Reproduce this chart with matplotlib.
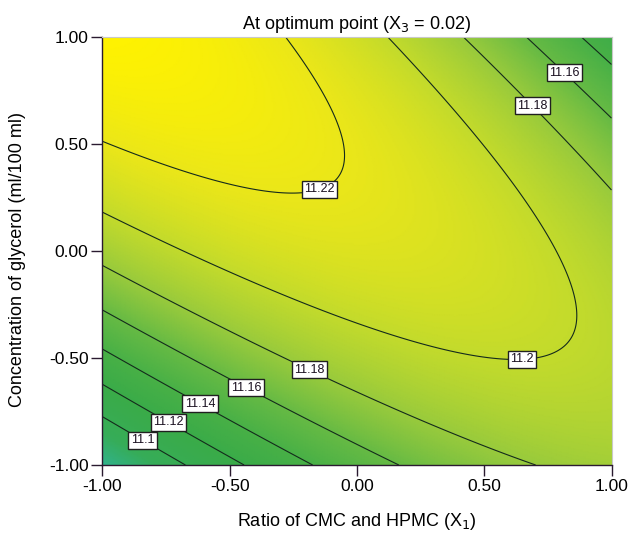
import numpy as np
import matplotlib.pyplot as plt
from matplotlib.colors import LinearSegmentedColormap

plt.rcParams['font.family'] = ['Liberation Sans Narrow', 'Liberation Sans', 'DejaVu Sans']

# quadratic model coefficients at X3 = 0.02 (intercept, X1, X2, X1X2, X1^2, X2^2)
b0 = 11.21334
b_lin = [0.00251, 0.02793]
b_int = -0.05632
b_sq = [-0.02497, -0.03440]

levels = [11.10, 11.12, 11.14, 11.16, 11.18, 11.20, 11.22]
# where each contour label sits (x1, x2)
label_pos = [(-0.831, -0.859), (-0.731, -0.778), (-0.605, -0.687), (-0.427, -0.617),
             (-0.178, -0.531), (0.647, -0.468), (-0.152, 0.304), (0.700, 0.690), (0.827, 0.847)]

x1 = np.linspace(-1, 1, 301)
x2 = np.linspace(-1, 1, 301)
X1, X2 = np.meshgrid(x1, x2)
Z = (b0 + b_lin[0] * X1 + b_lin[1] * X2 + b_int * X1 * X2
     + b_sq[0] * X1 ** 2 + b_sq[1] * X2 ** 2)

zmin, zmax = 11.067, 11.236
stops = [(11.067, '#30b28e'), (11.09, '#36ac58'), (11.12, '#3aab48'), (11.14, '#48b046'),
         (11.16, '#66ba44'), (11.18, '#98ca3c'), (11.20, '#c2da2c'), (11.22, '#eae619'),
         (11.236, '#fff200')]
cmap = LinearSegmentedColormap.from_list(
    'surface', [((v - zmin) / (zmax - zmin), c) for v, c in stops])

fig = plt.figure(figsize=(6.31, 5.40), dpi=100)
ax = fig.add_axes([0.1624, 0.1389, 0.8067, 0.7926])
ax.pcolormesh(X1, X2, Z, cmap=cmap, vmin=zmin, vmax=zmax, shading='gouraud')
cs = ax.contour(X1, X2, Z, levels=levels, colors='#142a1c', linewidths=0.8)
labels = ax.clabel(cs, fmt=lambda v: f'{v:g}', manual=label_pos, inline=False, fontsize=9,
                   colors='#1a1020')
for t in labels:
    t.set_rotation(0)
    t.set_bbox(dict(boxstyle='square,pad=0.2', facecolor='white', edgecolor='#202020', linewidth=1.0))

ax.set_xlim(-1, 1)
ax.set_ylim(-1, 1)
ticks = [-1.0, -0.5, 0.0, 0.5, 1.0]
ax.set_xticks(ticks)
ax.set_yticks(ticks)
ax.set_xticklabels([f'{t:.2f}' for t in ticks])
ax.set_yticklabels([f'{t:.2f}' for t in ticks])
ax.tick_params(direction='out', length=8, width=1.0, color='#2a1a30', labelsize=12.5, pad=2)
for side in ['left', 'bottom']:
    ax.spines[side].set_color('#2a1a30')
    ax.spines[side].set_linewidth(1.0)
for side in ['top', 'right']:
    ax.spines[side].set_color('#c8c8c8')
    ax.spines[side].set_linewidth(0.8)

ax.set_xlabel('Ratio of CMC and HPMC (X$_1$)', fontsize=13, labelpad=12)
ax.set_ylabel('Concentration of glycerol (ml/100 ml)', fontsize=13)
ax.yaxis.set_label_coords(-0.15, 0.48)
ax.set_title('At optimum point (X$_3$ = 0.02)', fontsize=13, pad=6)

fig.savefig('out.png')
